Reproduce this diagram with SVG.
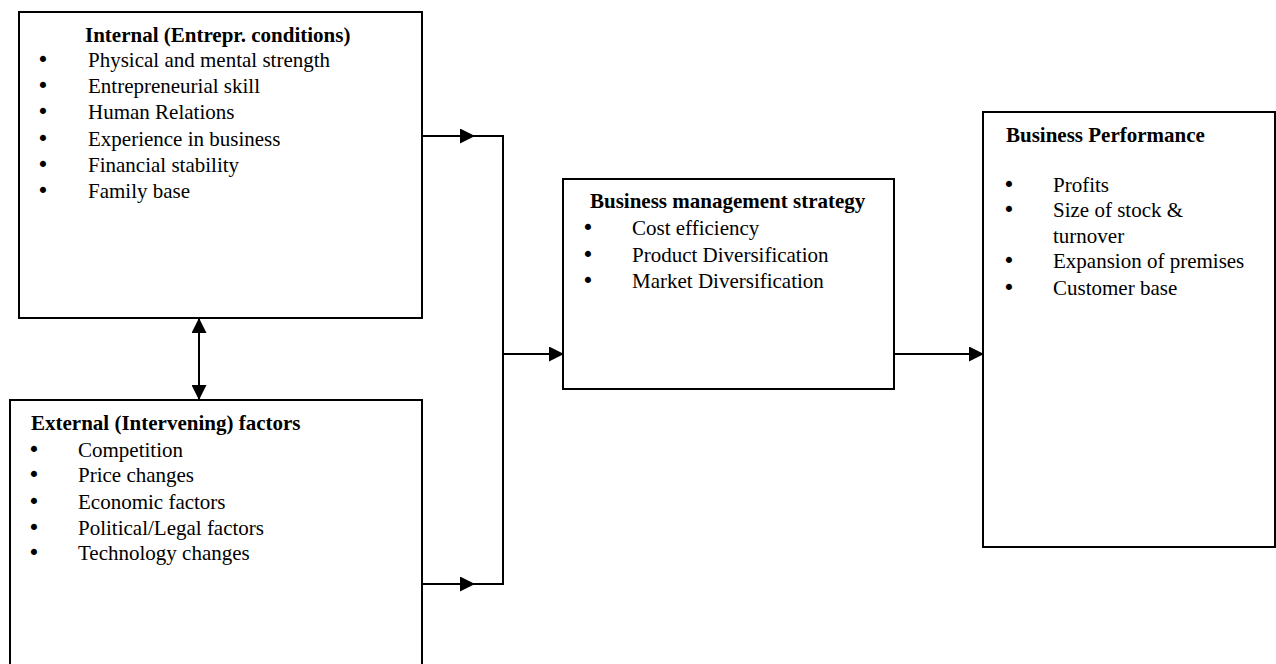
<svg xmlns="http://www.w3.org/2000/svg" width="1276" height="664" viewBox="0 0 1276 664">
<style>
.box{fill:#fff;stroke:#000;stroke-width:2}
.t{font-family:"Liberation Serif","Times New Roman",serif;font-size:21px;fill:#000}
.b{font-weight:bold}
.bl{font-family:"DejaVu Sans",sans-serif;font-size:21px;text-anchor:middle;fill:#000}
.c{fill:none;stroke:#000;stroke-width:2}
</style>
<defs>
<marker id="ah" markerUnits="userSpaceOnUse" markerWidth="15" markerHeight="15" viewBox="0 0 15 15" refX="14" refY="7.5" orient="auto-start-reverse">
<path d="M0,0 L15,7.5 L0,15 z" fill="#000"/>
</marker>
</defs>
<rect width="1276" height="664" fill="#fff"/>
<g id="internal">
<rect class="box" x="19" y="12" width="403" height="306"/>
<text class="t b" x="85" y="42">Internal (Entrepr. conditions)</text>
<text class="bl" x="43" y="67">•</text><text class="t" x="88" y="67">Physical and mental strength</text>
<text class="bl" x="43" y="93">•</text><text class="t" x="88" y="93">Entrepreneurial skill</text>
<text class="bl" x="43" y="119">•</text><text class="t" x="88" y="119">Human Relations</text>
<text class="bl" x="43" y="146">•</text><text class="t" x="88" y="146">Experience in business</text>
<text class="bl" x="43" y="172">•</text><text class="t" x="88" y="172">Financial stability</text>
<text class="bl" x="43" y="198">•</text><text class="t" x="88" y="198">Family base</text>
</g>
<g id="external">
<rect class="box" x="10" y="400" width="412" height="280"/>
<text class="t b" x="31" y="430">External (Intervening) factors</text>
<text class="bl" x="34" y="457">•</text><text class="t" x="78" y="457">Competition</text>
<text class="bl" x="34" y="482">•</text><text class="t" x="78" y="482">Price changes</text>
<text class="bl" x="34" y="509">•</text><text class="t" x="78" y="509">Economic factors</text>
<text class="bl" x="34" y="535">•</text><text class="t" x="78" y="535">Political/Legal factors</text>
<text class="bl" x="34" y="560">•</text><text class="t" x="78" y="560">Technology changes</text>
</g>
<g id="strategy">
<rect class="box" x="563" y="179" width="331" height="210"/>
<text class="t b" x="590" y="208">Business management strategy</text>
<text class="bl" x="588" y="235">•</text><text class="t" x="632" y="235">Cost efficiency</text>
<text class="bl" x="588" y="262">•</text><text class="t" x="632" y="262">Product Diversification</text>
<text class="bl" x="588" y="288">•</text><text class="t" x="632" y="288">Market Diversification</text>
</g>
<g id="performance">
<rect class="box" x="983" y="112" width="292" height="435"/>
<text class="t b" x="1006" y="142">Business Performance</text>
<text class="bl" x="1009" y="192">•</text><text class="t" x="1053" y="192">Profits</text>
<text class="bl" x="1009" y="217">•</text><text class="t" x="1053" y="217">Size of stock &amp;</text>
<text class="t" x="1053" y="243">turnover</text>
<text class="bl" x="1009" y="268">•</text><text class="t" x="1053" y="268">Expansion of premises</text>
<text class="bl" x="1009" y="295">•</text><text class="t" x="1053" y="295">Customer base</text>
</g>
<g id="connectors">
<path class="c" d="M199,319 V399" marker-start="url(#ah)" marker-end="url(#ah)"/>
<path class="c" d="M422,136 H474" marker-end="url(#ah)"/>
<path class="c" d="M422,584 H474" marker-end="url(#ah)"/>
<path class="c" d="M472,136 H503 V584 H472"/>
<path class="c" d="M503,354 H563" marker-end="url(#ah)"/>
<path class="c" d="M894,354 H983" marker-end="url(#ah)"/>
</g>
</svg>
